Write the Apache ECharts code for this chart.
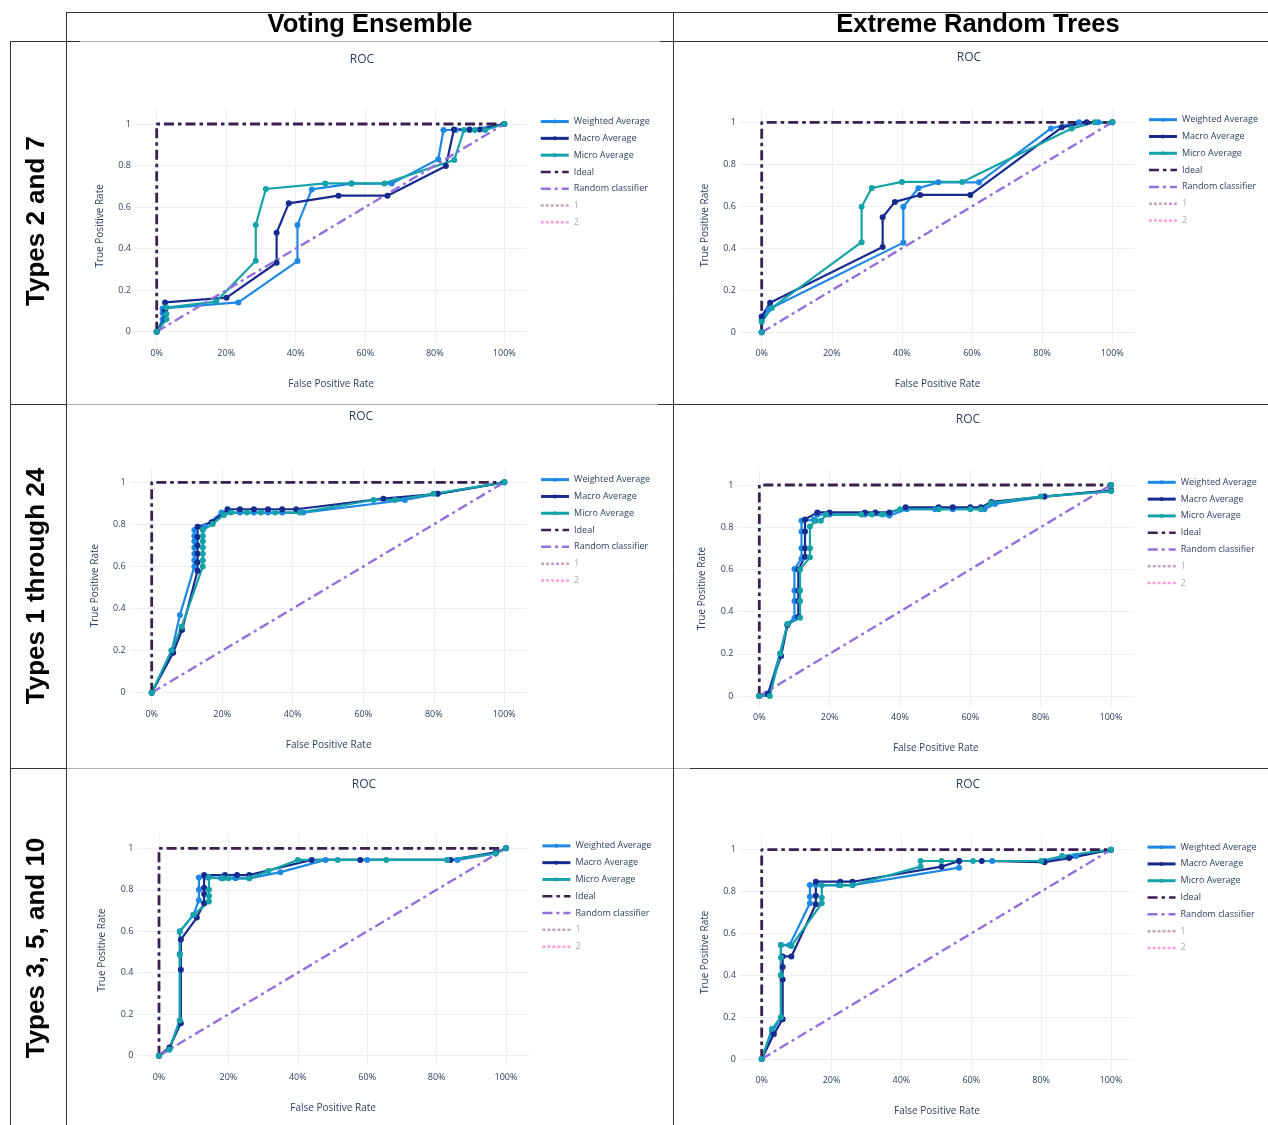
<!DOCTYPE html>
<html><head><meta charset="utf-8">
<script src="https://cdn.jsdelivr.net/npm/echarts@6/dist/echarts.min.js"></script>
<style>html,body{margin:0;padding:0;background:#fff}#c{width:1268px;height:1125px}</style>
</head><body><div id="c"></div><script>
// ---------------- DATA ----------------
const columnTitles = ['Voting Ensemble', 'Extreme Random Trees'];
const rowTitles = ['Types 2 and 7', 'Types 1 through 24', 'Types 3, 5, and 10'];
const seriesNames = ['Weighted Average', 'Macro Average', 'Micro Average', 'Ideal', 'Random classifier', '1', '2'];
const xTicks = [0, 0.2, 0.4, 0.6, 0.8, 1];
const yTicks = [0, 0.2, 0.4, 0.6, 0.8, 1];
const idealCurve = [[0, 0], [0, 1], [1, 1]];
const randomCurve = [[0, 0], [1, 1]];

// Voting Ensemble, Types 2 and 7
const ve27Weighted = [[0,0],[0.017,0.06],[0.017,0.09],[0.017,0.112],[0.235,0.141],[0.405,0.34],[0.405,0.514],[0.446,0.685],[0.561,0.713],[0.676,0.713],[0.81,0.83],[0.825,0.971],[0.86,0.971],[0.9,0.971],[1,1]];
const ve27Macro = [[0,0],[0.024,0.06],[0.024,0.1],[0.024,0.141],[0.201,0.164],[0.345,0.332],[0.345,0.477],[0.38,0.618],[0.523,0.655],[0.664,0.655],[0.832,0.798],[0.855,0.974],[0.9,0.974],[0.93,0.974],[1,1]];
const ve27Micro = [[0,0],[0.028,0.06],[0.028,0.085],[0.028,0.116],[0.171,0.145],[0.285,0.342],[0.285,0.514],[0.314,0.687],[0.485,0.714],[0.56,0.714],[0.655,0.714],[0.856,0.827],[0.884,0.971],[0.915,0.971],[0.945,0.971],[1,1]];
// Extreme Random Trees, Types 2 and 7
const ert27Weighted = [[0,0],[0,0.06],[0.02,0.11],[0.404,0.427],[0.404,0.598],[0.447,0.686],[0.504,0.714],[0.62,0.714],[0.825,0.971],[0.905,1],[0.96,1],[1,1]];
const ert27Macro = [[0,0],[0,0.075],[0.024,0.141],[0.345,0.406],[0.345,0.548],[0.38,0.621],[0.452,0.654],[0.595,0.654],[0.856,0.976],[0.927,1],[1,1]];
const ert27Micro = [[0,0],[0,0.05],[0.029,0.116],[0.285,0.429],[0.285,0.598],[0.314,0.687],[0.4,0.716],[0.572,0.716],[0.884,0.97],[0.95,1],[1,1]];
// Voting Ensemble, Types 1 through 24
const ve124Weighted = [[0,0],[0.057,0.2],[0.08,0.369],[0.121,0.6],[0.121,0.63],[0.121,0.66],[0.121,0.69],[0.121,0.72],[0.121,0.745],[0.121,0.773],[0.15,0.79],[0.198,0.856],[0.25,0.856],[0.29,0.856],[0.33,0.856],[0.37,0.856],[0.43,0.856],[0.718,0.916],[0.81,0.945],[1,1]];
const ve124Macro = [[0,0],[0.061,0.19],[0.086,0.298],[0.13,0.58],[0.13,0.62],[0.13,0.66],[0.13,0.7],[0.13,0.74],[0.13,0.789],[0.17,0.81],[0.215,0.872],[0.25,0.872],[0.29,0.872],[0.33,0.872],[0.37,0.872],[0.41,0.872],[0.657,0.922],[0.811,0.945],[1,1]];
const ve124Micro = [[0,0],[0.056,0.2],[0.085,0.314],[0.145,0.6],[0.145,0.63],[0.145,0.66],[0.145,0.69],[0.145,0.72],[0.145,0.745],[0.145,0.773],[0.173,0.802],[0.205,0.845],[0.225,0.856],[0.27,0.856],[0.31,0.856],[0.35,0.856],[0.42,0.856],[0.629,0.916],[0.69,0.916],[0.799,0.945],[1,1]];
// Extreme Random Trees, Types 1 through 24
const ert124Weighted = [[0,0],[0.025,0.01],[0.059,0.202],[0.08,0.341],[0.1,0.37],[0.1,0.45],[0.1,0.5],[0.1,0.602],[0.12,0.65],[0.12,0.7],[0.12,0.78],[0.12,0.831],[0.155,0.835],[0.165,0.86],[0.2,0.86],[0.3,0.86],[0.37,0.855],[0.419,0.885],[0.5,0.885],[0.55,0.885],[0.64,0.885],[0.67,0.91],[0.812,0.945],[1,0.973],[1,1]];
const ert124Macro = [[0,0],[0.025,0.01],[0.062,0.19],[0.08,0.335],[0.111,0.376],[0.111,0.45],[0.111,0.5],[0.111,0.6],[0.13,0.66],[0.13,0.7],[0.13,0.78],[0.13,0.837],[0.165,0.87],[0.2,0.87],[0.3,0.87],[0.33,0.87],[0.37,0.87],[0.416,0.894],[0.51,0.894],[0.55,0.894],[0.6,0.894],[0.63,0.894],[0.66,0.92],[0.81,0.945],[1,0.975],[1,1]];
const ert124Micro = [[0,0],[0.03,0],[0.06,0.2],[0.08,0.34],[0.116,0.371],[0.116,0.45],[0.116,0.5],[0.116,0.6],[0.144,0.657],[0.144,0.7],[0.144,0.803],[0.16,0.83],[0.175,0.83],[0.19,0.86],[0.29,0.86],[0.32,0.86],[0.35,0.86],[0.4,0.885],[0.51,0.885],[0.6,0.885],[0.63,0.885],[0.66,0.915],[0.8,0.945],[1,0.97],[1,1]];
// Voting Ensemble, Types 3, 5, and 10
const ve3510Weighted = [[0,0],[0.03,0.03],[0.06,0.17],[0.06,0.49],[0.06,0.598],[0.099,0.678],[0.115,0.75],[0.115,0.8],[0.115,0.859],[0.14,0.859],[0.18,0.855],[0.22,0.855],[0.26,0.855],[0.35,0.885],[0.48,0.944],[0.6,0.944],[0.86,0.944],[0.97,0.975],[1,1]];
const ve3510Macro = [[0,0],[0.03,0.04],[0.063,0.156],[0.063,0.415],[0.063,0.56],[0.109,0.666],[0.13,0.735],[0.13,0.78],[0.13,0.81],[0.13,0.871],[0.19,0.871],[0.225,0.871],[0.26,0.871],[0.44,0.944],[0.58,0.944],[0.84,0.944],[0.97,0.98],[1,1]];
const ve3510Micro = [[0,0],[0.03,0.03],[0.06,0.17],[0.06,0.486],[0.06,0.6],[0.1,0.68],[0.144,0.743],[0.144,0.77],[0.144,0.8],[0.144,0.86],[0.185,0.855],[0.2,0.855],[0.26,0.855],[0.315,0.89],[0.4,0.944],[0.515,0.944],[0.655,0.944],[0.83,0.944],[0.97,0.975],[1,1]];
// Extreme Random Trees, Types 3, 5, and 10
const ert3510Weighted = [[0,0],[0.03,0.13],[0.055,0.197],[0.055,0.4],[0.055,0.545],[0.08,0.545],[0.138,0.744],[0.138,0.775],[0.138,0.831],[0.155,0.831],[0.22,0.831],[0.26,0.831],[0.565,0.914],[0.565,0.946],[0.66,0.946],[0.81,0.946],[0.9,0.97],[1,1]];
const ert3510Macro = [[0,0],[0.035,0.119],[0.06,0.19],[0.06,0.38],[0.06,0.44],[0.06,0.49],[0.085,0.49],[0.155,0.739],[0.155,0.78],[0.155,0.847],[0.225,0.847],[0.26,0.847],[0.515,0.919],[0.565,0.946],[0.63,0.946],[0.81,0.94],[0.88,0.96],[1,1]];
const ert3510Micro = [[0,0],[0.029,0.143],[0.055,0.2],[0.055,0.4],[0.055,0.485],[0.055,0.545],[0.085,0.54],[0.172,0.744],[0.172,0.77],[0.172,0.83],[0.225,0.83],[0.26,0.83],[0.455,0.919],[0.455,0.946],[0.515,0.946],[0.605,0.946],[0.8,0.946],[0.86,0.97],[1,1]];

const panelCurves = [
  [ve27Weighted, ve27Macro, ve27Micro],
  [ert27Weighted, ert27Macro, ert27Micro],
  [ve124Weighted, ve124Macro, ve124Micro],
  [ert124Weighted, ert124Macro, ert124Micro],
  [ve3510Weighted, ve3510Macro, ve3510Micro],
  [ert3510Weighted, ert3510Macro, ert3510Micro]
];

// ---------------- LAYOUT / STYLE ----------------
const FONT = '"Open Sans", "Noto Sans", sans-serif';
const TXT = '#2a3f5f';
const colors = ['#1e88e5', '#172b8f', '#15a2a8', '#3b1f4e', '#9370db', '#8e5a8e', '#f050c0'];
// pixel positions of data 0 and 1 in each panel
const panels = [
  {x0:156.7, x1:504.3, y1:124,   y0:331.7, tx:362, ty:60},
  {x0:761.7, x1:1112.3,y1:122.3, y0:332.3, tx:969, ty:58},
  {x0:151.7, x1:504.3, y1:482.3, y0:692.7, tx:361, ty:417},
  {x0:759.3, x1:1111,  y1:485,   y0:696,   tx:968, ty:420},
  {x0:159,   x1:506,   y1:848.3, y0:1055.7,tx:364, ty:785},
  {x0:761.7, x1:1111,  y1:849.7, y0:1059,  tx:968, ty:785}
];
const XMIN = -0.0625, XMAX = 1.066, YMIN = -0.053, YMAX = 1.072;

const grid = [], xAxis = [], yAxis = [], series = [], legend = [], graphic = [];
panels.forEach((p, i) => {
  const sx = p.x1 - p.x0, sy = p.y0 - p.y1;
  const left = p.x0 + XMIN * sx, right = p.x0 + XMAX * sx;
  const top = p.y1 - (YMAX - 1) * sy, bottom = p.y0 - YMIN * sy;
  grid.push({left: left, top: top, width: right - left, height: bottom - top, containLabel: false});
  xAxis.push({
    gridIndex: i, type: 'value', min: XMIN, max: XMAX,
    axisLine: {show: false}, axisTick: {show: false, customValues: xTicks},
    axisLabel: {customValues: xTicks, fontSize: 9, color: TXT, fontFamily: FONT, margin: 6,
      formatter: v => Math.round(v * 100) + '%'},
    splitLine: {show: true, lineStyle: {color: '#ebf0f8', width: 1}},
    name: 'False Positive Rate', nameLocation: 'middle', nameGap: 36,
    nameTextStyle: {fontSize: 10, color: TXT, fontFamily: FONT}
  });
  yAxis.push({
    gridIndex: i, type: 'value', min: YMIN, max: YMAX,
    axisLine: {show: false}, axisTick: {show: false, customValues: yTicks},
    axisLabel: {customValues: yTicks, fontSize: 9, color: TXT, fontFamily: FONT, margin: 4,
      formatter: v => String(+v.toFixed(1))},
    splitLine: {show: true, lineStyle: {color: '#ebf0f8', width: 1}},
    name: 'True Positive Rate', nameLocation: 'middle', nameGap: 30,
    nameTextStyle: {fontSize: 10, color: TXT, fontFamily: FONT}
  });
  panelCurves[i].forEach((d, k) => {
    series.push({
      type: 'line', name: seriesNames[k], xAxisIndex: i, yAxisIndex: i, data: d,
      symbol: 'circle', symbolSize: 6, showSymbol: true, clip: false,
      lineStyle: {width: 2.2, color: colors[k]}, itemStyle: {color: colors[k]},
      emphasis: {disabled: true}, animation: false
    });
  });
  series.push({type: 'line', name: seriesNames[3], xAxisIndex: i, yAxisIndex: i, data: idealCurve,
    symbol: 'none', lineStyle: {width: 2.8, color: colors[3], type: [10, 4, 3.5, 4]},
    itemStyle: {color: colors[3]}, emphasis: {disabled: true}, animation: false});
  series.push({type: 'line', name: seriesNames[4], xAxisIndex: i, yAxisIndex: i, data: randomCurve,
    symbol: 'none', lineStyle: {width: 2.4, color: colors[4], type: [10, 4, 3, 4]},
    itemStyle: {color: colors[4]}, emphasis: {disabled: true}, animation: false});
  series.push({type: 'line', name: seriesNames[5], xAxisIndex: i, yAxisIndex: i, data: [],
    symbol: 'none', lineStyle: {width: 2.5, color: colors[5], type: [3, 2]},
    itemStyle: {color: colors[5]}, animation: false});
  series.push({type: 'line', name: seriesNames[6], xAxisIndex: i, yAxisIndex: i, data: [],
    symbol: 'none', lineStyle: {width: 2.5, color: colors[6], type: [3, 2]},
    itemStyle: {color: colors[6]}, animation: false});
  legend.push({
    orient: 'vertical', left: right + 12, top: top + 8, padding: 0,
    itemWidth: 28, itemHeight: 5, itemGap: 7.8, selectedMode: false,
    textStyle: {fontSize: 9, color: TXT, fontFamily: FONT},
    data: seriesNames.map((n, k) => k < 3 ? {name: n, lineStyle: {width: 3}} :
      k < 5 ? {name: n, itemStyle: {opacity: 0}, lineStyle: {width: 2.5}} :
      {name: n, textStyle: {color: '#a3abb9'}, itemStyle: {opacity: 0}, lineStyle: {opacity: 0.55, width: 2.5}})
  });
  graphic.push({type: 'text', x: p.tx, y: p.ty, silent: true,
    style: {text: 'ROC', fill: TXT, font: '12px ' + FONT, align: 'center', verticalAlign: 'middle'}});
});

// table lines
const dark = '#333', light = '#b0b0b0';
const seg = (x1, y1, x2, y2, c) => graphic.push({type: 'line', silent: true,
  shape: {x1: x1, y1: y1, x2: x2, y2: y2}, style: {stroke: c, lineWidth: 1}});
seg(66, 12.5, 1268, 12.5, dark);
seg(10, 41.5, 80, 41.5, dark); seg(80, 41.5, 660, 41.5, light); seg(660, 41.5, 1268, 41.5, dark);
seg(10, 404.5, 66, 404.5, dark); seg(66, 404.5, 658, 404.5, light); seg(658, 404.5, 1268, 404.5, dark);
seg(10, 768.5, 66, 768.5, dark); seg(66, 768.5, 690, 768.5, light); seg(690, 768.5, 1268, 768.5, dark);
seg(10.5, 41, 10.5, 1125, dark);
seg(66.5, 12, 66.5, 1125, dark);
seg(673.5, 12, 673.5, 1125, dark);

// header texts
const headerX = [370, 978];
columnTitles.forEach((t, i) => graphic.push({type: 'text', x: headerX[i], y: 25, silent: true,
  style: {text: t, fill: '#000', font: 'bold 25.5px "Liberation Sans", sans-serif', align: 'center', verticalAlign: 'middle'}}));
const rowY = [221, 586, 948];
rowTitles.forEach((t, i) => graphic.push({type: 'text', x: 37, y: rowY[i], rotation: Math.PI / 2, silent: true,
  style: {text: t, fill: '#000', font: 'bold 26px "Liberation Sans", sans-serif', align: 'center', verticalAlign: 'middle'}}));

const chart = echarts.init(document.getElementById('c'), null, {renderer: 'canvas'});
chart.setOption({
  animation: false,
  backgroundColor: '#fff',
  textStyle: {fontFamily: FONT},
  grid: grid, xAxis: xAxis, yAxis: yAxis, series: series, legend: legend, graphic: graphic
});
</script></body></html>
